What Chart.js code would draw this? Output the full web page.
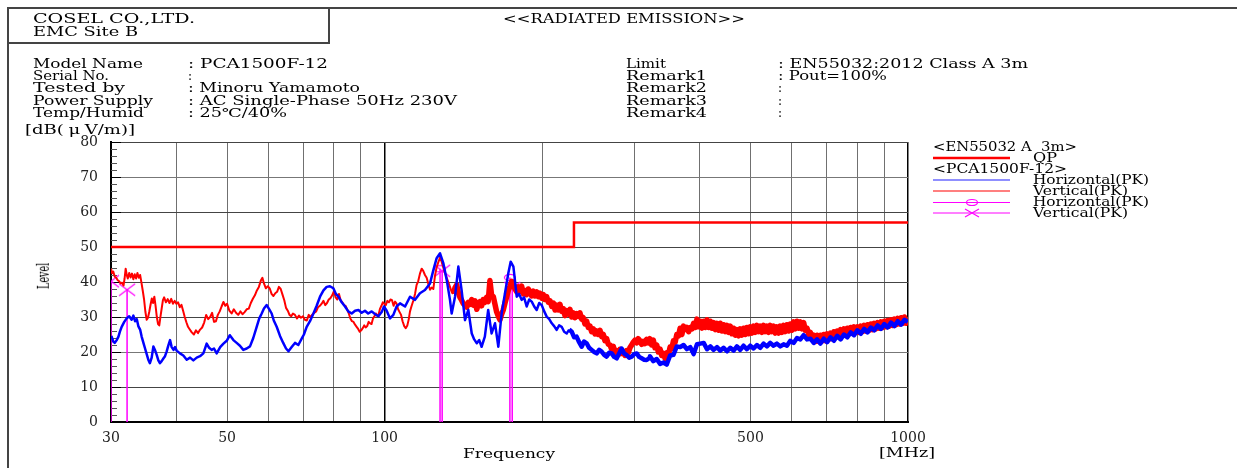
<!DOCTYPE html>
<html><head><meta charset="utf-8">
<script src="https://cdn.jsdelivr.net/npm/chart.js@4.4.1/dist/chart.umd.min.js"></script>
<style>
html,body{margin:0;padding:0;background:#fff;}
#wrap{position:relative;width:1237px;height:468px;overflow:hidden;background:#fff;}
#c{position:absolute;left:0;top:0;}
.t{position:absolute;font-family:'DejaVu Serif',serif;font-size:12px;line-height:12px;white-space:pre;color:#000;transform-origin:0 50%;}
.fr{position:absolute;background:#444;}
</style></head><body>
<div id="wrap">
<canvas id="c" width="1237" height="468"></canvas>
<div class="fr" style="left:7px;top:7px;width:2px;height:461px"></div>
<div class="fr" style="left:7px;top:7px;width:1230px;height:2px"></div>
<div class="fr" style="left:328px;top:7px;width:2px;height:37px"></div>
<div class="fr" style="left:7px;top:42px;width:323px;height:2px"></div>

<div class="t" data-w="162" style="left:33px;top:13px">COSEL CO.,LTD.</div>
<div class="t" data-w="105" style="left:33px;top:26px">EMC Site B</div>
<div class="t" data-w="242" style="left:503px;top:13px">&lt;&lt;RADIATED EMISSION&gt;&gt;</div>

<div class="t" data-w="110" style="left:33px;top:58px">Model Name</div>
<div class="t" data-w="76" style="left:33px;top:70px">Serial No.</div>
<div class="t" data-w="92" style="left:33px;top:82px">Tested by</div>
<div class="t" data-w="120" style="left:33px;top:95px">Power Supply</div>
<div class="t" data-w="111" style="left:33px;top:107px">Temp/Humid</div>

<div class="t" data-w="140" style="left:188px;top:58px">: PCA1500F-12</div>
<div class="t" style="left:188px;top:70px">:</div>
<div class="t" data-w="172" style="left:188px;top:82px">: Minoru Yamamoto</div>
<div class="t" data-w="269" style="left:188px;top:95px">: AC Single-Phase 50Hz 230V</div>
<div class="t" data-w="99" style="left:188px;top:107px">: 25℃/40%</div>

<div class="t" data-w="40" style="left:626px;top:58px">Limit</div>
<div class="t" data-w="81" style="left:626px;top:70px">Remark1</div>
<div class="t" data-w="81" style="left:626px;top:82px">Remark2</div>
<div class="t" data-w="81" style="left:626px;top:95px">Remark3</div>
<div class="t" data-w="81" style="left:626px;top:107px">Remark4</div>

<div class="t" data-w="250" style="left:778px;top:58px">: EN55032:2012 Class A 3m</div>
<div class="t" data-w="109" style="left:778px;top:70px">: Pout=100%</div>
<div class="t" style="left:778px;top:82px">:</div>
<div class="t" style="left:778px;top:95px">:</div>
<div class="t" style="left:778px;top:107px">:</div>

<div class="t" data-w="110" style="left:25px;top:124px">[dB(<span style="padding:0 3px">μ</span>V/m)]</div>
<div class="t" id="lvl" style="left:22px;top:268px;font-size:16px;line-height:16px;transform-origin:50% 50%;transform:rotate(-90deg) scaleX(0.6)">Level</div>

<div class="t" data-w="92" style="left:463px;top:448px">Frequency</div>
<div class="t" data-w="56" style="left:879px;top:447px">[MHz]</div>

<div class="t" data-w="144" style="left:933px;top:141px">&lt;EN55032 A  3m&gt;</div>
<div class="t" data-w="24" style="left:1033px;top:152px">QP</div>
<div class="t" data-w="134" style="left:933px;top:163px">&lt;PCA1500F-12&gt;</div>
<div class="t" data-w="116" style="left:1033px;top:174px">Horizontal(PK)</div>
<div class="t" data-w="95" style="left:1033px;top:185px">Vertical(PK)</div>
<div class="t" data-w="116" style="left:1033px;top:196px">Horizontal(PK)</div>
<div class="t" data-w="95" style="left:1033px;top:207px">Vertical(PK)</div>
<svg style="position:absolute;left:930px;top:150px" width="90" height="70">
 <line x1="3" y1="8" x2="80" y2="8" stroke="#ff0000" stroke-width="2.5"/>
 <line x1="3" y1="30" x2="80" y2="30" stroke="#2020ff" stroke-width="1.2"/>
 <line x1="3" y1="41" x2="80" y2="41" stroke="#ff0000" stroke-width="1.2"/>
 <line x1="3" y1="52.5" x2="80" y2="52.5" stroke="#ff00ff" stroke-width="1.2"/>
 <ellipse cx="42" cy="52.5" rx="5.5" ry="3" fill="none" stroke="#ff00ff" stroke-width="1.2"/>
 <line x1="3" y1="63" x2="80" y2="63" stroke="#ff00ff" stroke-width="1.2"/>
 <path d="M35,59 L49,67 M49,59 L35,67" stroke="#ff00ff" stroke-width="1.2" fill="none"/>
</svg>
</div>
<script>
// ---- data (frequency MHz, level dBuV/m) ----
const horizontalPK = [
[30.05,24.6],[30.3,23.0],[30.5,22.6],[30.76,23.4],[31.0,24.4],[31.2,25.8],[31.44,27.2],[31.8,28.6],[32.14,29.6],[32.5,30.2],[32.85,29.2],[33.1,30.4],[33.35,28.8],[33.6,29.4],[33.83,27.4],[34.1,26.4],[34.33,24.4],[34.6,22.6],[34.85,21.0],[35.1,19.4],[35.35,17.8],[35.6,16.8],[35.88,18.4],[36.15,21.6],[36.4,20.6],[36.68,19.2],[36.95,17.6],[37.2,16.8],[37.49,17.4],[37.8,18.2],[38.05,18.8],[38.33,20.2],[38.6,21.8],[38.9,23.4],[39.18,21.4],[39.5,20.6],[39.76,21.4],[40.05,20.4],[40.64,19.6],[41.24,19.0],[41.86,17.8],[42.48,18.4],[43.1,17.6],[43.74,18.4],[44.38,18.8],[45.04,19.6],[45.7,22.4],[46.2,21.2],[46.72,20.6],[47.2,21.0],[47.76,19.6],[48.5,21.4],[49.2,22.4],[49.91,23.2],[50.6,24.8],[51.4,23.4],[52.15,22.6],[52.9,21.8],[53.7,20.6],[54.5,21.0],[55.3,21.6],[56.1,24.0],[56.95,27.2],[57.6,29.6],[58.22,31.0],[58.8,32.4],[59.51,33.4],[60.2,32.2],[60.83,31.0],[61.4,29.0],[62.19,27.2],[63.1,24.6],[64.0,22.6],[64.8,21.0],[65.5,20.2],[66.43,21.4],[67.4,22.6],[68.4,22.0],[69.42,23.8],[70.1,25.0],[70.96,27.2],[72.0,28.8],[73.1,31.0],[74.15,33.2],[75.25,35.8],[76.4,37.6],[77.49,38.6],[78.6,38.8],[79.8,38.2],[80.7,36.6],[81.6,35.8],[82.78,34.2],[84.0,33.0],[85.2,31.6],[86.5,31.0],[87.8,31.8],[89.1,32.0],[90.39,31.2],[91.7,31.8],[93.0,31.0],[94.46,31.6],[95.9,30.8],[97.3,30.2],[98.71,31.4],[99.7,33.0],[100.9,31.8],[102.4,29.6],[103.9,30.6],[105.4,33.0],
[107.0,33.9],[109.4,33.0],[111.8,35.8],[114.3,34.9],[116.8,36.8],[119.4,37.7],[122.1,39.6],[123.9,43.4],[125.7,46.8],[127.6,48.2],[129.5,45.3],[131.4,40.6],[133.3,34.9],[134.3,31.0],[136.3,35.8],[138.3,44.4],[140.3,37.7],[142.4,29.1],[144.5,32.0],[146.7,25.3],[148.3,23.6],[150.0,22.5],[151.6,23.4],[153.2,21.5],[155.4,24.4],[157.7,32.0],[160.1,25.3],[162.5,28.2],[164.9,21.5],[167.3,31.0],[169.8,36.8],[172.3,42.5],[174.1,45.8],[176.2,44.4],[178.8,35.8],[180.7,36.6],[182.7,34.9],[184.7,35.6],[186.8,33.0],[188.9,35.0],[191.0,34.4],[193.1,33.0],[195.2,32.0],[197.4,34.0],[199.6,33.4],[201.8,31.6],[204.0,30.1],[206.3,29.4],[208.6,28.2],[210.8,27.4],[213.1,26.3],[215.5,27.6],[217.9,27.2],[220.3,25.8],[222.8,25.3],[225.2,26.4],[227.7,25.8],[230.2,24.2],[232.7,24.4],[235.3,22.8],[237.9,21.5],[240.5,23.0],[243.2,22.5],[245.9,21.2],[248.6,20.6],[251.4,20.0],[254.2,19.6],[257.0,20.6],[259.8,20.1],[262.7,19.2],[265.6,18.7],[268.5,19.8],[271.5,19.6],[274.5,18.6],[277.6,18.2],[280.6,19.6],[283.7,21.0],[286.8,19.6],[290.0,19.1],[293.2,18.4],[296.5,18.7],[299.8,19.4],[303.1,19.6],[306.4,18.6],[309.8,18.2],[313.2,17.8],[316.7,17.7],[320.0,18.2],
[321.3,18.8],[326.1,17.4],[331.0,18.0],[336.0,16.6],[341.0,17.0],[346.0,16.4],[351.1,19.0],[356.3,19.2],[361.6,21.6],[367.0,21.4],[372.5,22.0],[378.0,20.8],[383.7,21.4],[389.4,19.4],[395.2,22.2],[401.0,22.4],[407.0,22.6],[413.0,20.8],[419.1,21.6],[425.2,20.6],[431.5,21.4],[437.9,20.4],[444.3,21.2],[450.9,20.2],[457.5,21.2],[464.3,20.4],[471.1,21.6],[478.0,20.6],[485.1,21.8],[492.2,20.8],[499.5,21.8],[506.9,21.0],[514.4,22.0],[522.0,21.2],[529.7,22.4],[537.5,21.6],[545.5,22.6],[553.5,21.8],[561.7,22.4],[570.0,21.6],[578.5,22.2],[587.0,21.8],[595.8,23.2],[604.6,22.6],[613.6,24.0],[622.7,23.6],[631.9,24.8],[641.3,23.6],[650.8,23.8],[660.5,22.6],[670.3,23.6],[680.3,22.4],[690.4,23.8],[700.7,22.8],[711.1,24.2],[721.7,23.2],[732.5,24.6],[743.4,23.6],[754.5,25.0],[765.7,24.2],[777.1,25.6],[788.7,24.8],[800.5,26.2],[812.4,25.2],[824.5,26.6],[836.8,25.6],[849.3,27.0],[861.9,26.2],[874.7,27.6],[887.8,26.6],[901.0,28.0],[914.4,27.0],[928.1,28.4],[941.9,27.4],[955.9,28.8],[970.1,27.8],[984.6,29.2],[999.3,28.6]
];
const verticalPK = [
[30.0,43.8],[30.15,42.5],[30.3,43.0],[30.5,41.5],[30.7,41.2],[30.9,40.5],[31.1,40.2],[31.3,39.6],[31.5,39.8],[31.7,39.0],[31.85,41.0],[32.0,43.8],[32.15,42.0],[32.3,41.0],[32.5,42.6],[32.7,41.3],[32.9,42.4],[33.1,40.8],[33.3,42.2],[33.5,41.0],[33.7,42.6],[33.9,41.2],[34.1,42.0],[34.3,39.8],[34.5,37.5],[34.7,35.0],[34.9,31.5],[35.1,29.2],[35.3,29.8],[35.5,31.5],[35.7,33.5],[35.9,35.3],[36.1,34.0],[36.3,35.8],[36.5,33.2],[36.7,30.0],[36.9,28.0],[37.1,27.6],[37.3,30.2],[37.5,32.5],[37.7,34.8],[37.9,35.6],[38.2,34.2],[38.5,35.1],[38.8,34.0],[39.1,35.2],[39.4,33.8],[39.7,34.6],[40.0,33.8],[40.3,34.2],[40.6,32.8],[40.9,33.5],[41.2,31.8],[41.5,30.0],[41.8,28.5],[42.1,27.2],[42.4,26.5],[42.8,25.6],[43.2,25.0],[43.6,26.2],[44.0,25.4],[44.4,26.4],[44.8,27.0],[45.2,28.4],[45.6,30.6],[46.0,29.4],[46.4,30.0],[46.8,31.2],[47.2,28.6],[47.6,28.8],[48.0,30.6],[48.4,31.6],[48.8,33.0],[49.2,34.3],[49.6,33.2],[50.0,33.8],[50.5,31.8],[51.0,31.0],[51.5,32.2],[52.0,31.2],[52.5,30.6],[53.0,31.6],[53.5,30.8],[54.0,31.4],[54.5,32.2],[55.0,32.4],[55.5,34.0],[56.0,35.2],[56.5,36.2],[57.0,37.6],[57.5,38.6],[58.0,40.4],[58.4,41.2],[58.8,39.6],[59.3,38.2],[59.8,38.8],[60.3,38.2],[60.8,36.6],[61.3,36.0],[61.8,36.8],[62.3,37.2],[62.8,38.6],[63.3,38.0],[63.8,36.4],[64.3,34.8],[64.8,32.6],[65.3,31.8],[65.8,30.6],[66.3,30.2],[66.8,31.0],[67.4,30.6],[68.0,29.6],[68.6,30.4],[69.2,29.8],[69.8,30.2],[70.4,29.2],[71.0,29.0],[71.6,30.6],[72.2,30.0],[72.8,30.8],[73.4,31.2],[74.0,31.6],[74.6,32.8],[75.2,33.2],[75.8,33.8],[76.4,34.6],[77.0,33.4],[77.6,34.0],[78.2,35.0],[78.8,35.4],[79.4,36.2],[80.0,37.4],[80.6,35.6],[81.2,35.0],[81.8,36.6],[82.4,34.8],[83.0,34.2],[83.6,33.4],[84.2,33.2],[84.8,32.2],[85.4,31.0],[86.0,29.6],[86.6,28.8],[87.2,28.6],[87.8,27.8],[88.4,27.2],[89.0,26.6],[89.6,25.8],[90.2,26.2],[90.8,26.8],[91.4,27.6],[92.0,27.0],[92.6,27.4],[93.2,28.6],[93.8,28.2],[94.4,28.0],[95.0,29.6],[95.6,30.2],[96.2,31.0],[96.8,30.4],[97.4,30.8],[98.0,32.4],[98.6,33.2],[99.2,34.2],[99.8,33.8],[100.5,33.4],[101.2,34.6],[101.9,34.2],[102.6,35.0],[103.3,34.8],[104.0,33.2],[104.7,34.4],[105.4,33.8],[106.1,32.2],[106.8,31.4],[107.5,30.6],
[108.2,28.8],[109.0,27.4],[109.7,26.8],[110.5,27.6],[111.2,29.4],[111.8,31.6],[112.5,33.0],[113.5,34.8],[114.3,36.6],[115.1,39.2],[115.9,40.2],[116.8,42.4],[117.7,43.8],[118.5,43.2],[119.4,42.0],[120.3,41.2],[121.2,39.4],[122.1,37.8],[123.0,38.4],[123.9,38.0],[124.8,41.8],[125.7,44.2],[126.6,45.6],[127.6,47.0],[128.5,45.8],[129.5,44.0],[130.4,42.6],[131.4,41.2],[132.3,40.0],[133.3,38.6],[134.3,37.2],[135.3,36.6],[136.3,38.4],[137.3,39.2],[138.3,37.0],[139.3,35.6],[140.3,34.8],[141.4,33.8],[142.4,33.4],[143.5,32.8],[144.5,34.2],[145.6,33.6],[146.7,35.0],[147.7,33.4],[148.8,34.6],[150.0,32.2],[151.0,33.8],[152.1,34.4],[153.2,33.2],[154.3,35.0],[155.4,34.2],[156.6,35.6],[157.7,34.4],[158.9,40.4],[160.1,36.2],[161.3,35.8],[162.5,33.6],[163.7,31.4],[164.9,30.2],[166.1,29.2],[167.3,30.8],[168.5,32.0],[169.8,34.0],[171.1,35.8],[172.3,37.6],[173.6,38.8],[174.9,40.2],[176.2,39.4],[177.5,38.0],[178.8,37.2],[180.1,38.6],[181.4,37.4],[182.7,38.8],[184.1,36.6],[185.4,37.6],[186.8,36.4],[188.1,38.0],[189.5,37.2],[190.9,36.0],[192.3,37.4],[193.8,36.0],[195.2,37.2],[196.7,35.8],[198.1,36.8],[199.6,35.4],[201.0,36.4],[202.5,35.0],[204.0,35.8],[205.5,34.2],[207.0,34.6],[208.6,33.0],[210.1,34.0],[211.6,32.0],[213.2,33.4],[214.7,32.0],[216.3,33.6],[217.9,31.6],[219.5,32.4],[221.1,30.4],[222.8,31.8],[224.4,30.8],[226.0,32.2],[227.7,30.0],[229.3,31.2],[231.0,29.8],[232.7,31.0],[234.4,30.2],[236.1,31.2],[237.9,29.4],[239.6,29.8],[241.4,28.0],[243.2,28.8],[245.0,27.0],[246.8,27.4],[248.6,25.8],[250.5,26.6],[252.3,25.2],[254.2,26.0],[256.0,25.0],[257.9,26.2],[259.8,24.4],[261.7,25.0],[263.6,23.2],[265.6,23.8],[267.5,22.2],[269.5,22.0],[271.5,20.8],[273.5,21.6],[275.5,19.6],[277.6,20.4],[279.6,19.2],[281.6,20.8],[283.7,19.6],[285.8,20.2],[287.9,19.0],[290.0,20.4],[292.1,19.8],[294.2,21.2],[296.5,22.0],[298.6,22.8],[300.8,23.4],[303.0,22.6],[305.2,23.8],[307.5,23.2],[309.8,22.2],[312.0,23.0],[314.3,22.4],[316.7,23.6],[319.0,22.6],
[321.3,23.8],[323.7,22.0],[326.1,23.4],[328.5,21.2],[331.0,22.0],[333.4,20.0],[336.0,20.8],[338.4,19.0],[341.0,19.6],[343.4,18.2],[346.0,19.8],[348.5,19.2],[351.1,21.4],[353.7,21.0],[356.3,23.2],[359.0,22.8],[361.6,25.0],[364.3,24.6],[367.0,26.8],[369.8,25.0],[372.5,27.4],[375.3,26.4],[378.0,27.0],[380.9,25.8],[383.7,27.0],[386.5,26.6],[389.4,28.2],[392.3,27.0],[395.2,29.4],[398.1,27.2],[401.0,28.8],[404.0,26.8],[407.0,28.8],[410.0,27.0],[413.0,29.2],[416.0,27.0],[419.1,28.8],[422.1,26.8],[425.2,28.4],[428.4,26.4],[431.5,28.2],[434.7,26.2],[437.9,28.2],[441.1,26.0],[444.3,27.8],[447.6,25.8],[450.9,27.6],[454.2,25.6],[457.5,27.4],[460.9,25.2],[464.3,26.8],[467.7,24.8],[471.1,26.4],[474.6,24.6],[478.0,26.6],[481.5,24.8],[485.1,26.8],[488.6,25.0],[492.2,27.0],[495.8,25.2],[499.5,27.2],[503.2,25.4],[506.9,27.4],[510.6,25.6],[514.4,27.6],[518.1,25.8],[522.0,27.4],[525.8,25.6],[529.7,27.6],[533.6,25.8],[537.5,27.4],[541.5,25.6],[545.5,27.6],[549.5,25.8],[553.5,27.4],[557.6,25.4],[561.7,27.2],[565.9,25.4],[570.0,27.4],[574.2,25.6],[578.5,27.6],[582.7,25.8],[587.0,27.8],[591.4,26.0],[595.8,28.0],[600.2,26.2],[604.6,28.6],[609.1,26.6],[613.6,28.8],[618.1,26.8],[622.7,28.6],[627.3,26.6],[631.9,28.4],[636.6,26.2],[641.3,26.8],[646.1,25.0],[650.8,25.6],[655.6,23.8],[660.5,24.8],[665.4,23.0],[670.3,24.8],[675.3,23.0],[680.3,24.8],[685.3,23.2],[690.4,25.0],[695.5,23.2],[700.7,25.2],[705.9,23.6],[711.1,25.4],[716.4,23.8],[721.7,25.8],[727.1,24.2],[732.5,26.0],[737.9,24.4],[743.4,26.4],[748.9,24.8],[754.5,26.6],[760.1,25.0],[765.7,26.8],[771.4,25.2],[777.1,27.0],[782.9,25.4],[788.7,27.2],[794.6,25.6],[800.5,27.2],[806.4,25.6],[812.4,27.4],[818.4,25.8],[824.5,27.6],[830.6,26.0],[836.8,27.8],[843.0,26.2],[849.3,28.0],[855.6,26.4],[861.9,28.2],[868.3,26.6],[874.7,28.4],[881.2,26.8],[887.8,28.6],[894.4,27.0],[901.0,28.8],[907.7,27.2],[914.4,29.0],[921.2,27.4],[928.1,29.2],[934.9,27.6],[941.9,29.4],[948.9,27.8],[955.9,29.6],[963.0,28.0],[970.1,29.8],[977.3,28.2],[984.6,30.0],[991.9,28.2],[999.3,29.6]
];
const limitQP = [[30,50],[230,50],[230,57],[1000,57]];
const markersH = [[127.6,43.8],[173.5,41.3]];
const markersV = [[30.0,40.2],[32.2,37.8],[128.8,43.2],[175.3,38.3]];
const xTicks = [30,40,50,60,70,80,90,100,200,300,400,500,600,700,800,900,1000];
const xTickLabels = [30,50,100,500,1000];
const yTicks = [0,10,20,30,40,50,60,70,80];

// ---- text fitting (layout only) ----
document.querySelectorAll('[data-w]').forEach(el=>{
  const w = el.getBoundingClientRect().width;
  el.style.transform = 'scaleX(' + (parseFloat(el.dataset.w)/w) + ')';
});

const toXY = a => a.map(p => ({x:p[0], y:p[1]}));
const stems = m => m.flatMap(p => [{x:p[0],y:0},{x:p[0],y:p[1]},{x:p[0],y:null}]);
function mk(w,h,draw){const c=document.createElement('canvas');c.width=w;c.height=h;const g=c.getContext('2d');g.strokeStyle='#ff00ff';g.lineWidth=1.2;draw(g,w,h);return c;}
const ellipseImg = mk(14,9,(g,w,h)=>{g.beginPath();g.ellipse(w/2,h/2,5.5,3.2,0,0,Math.PI*2);g.stroke();});
const crossImg = mk(18,14,(g,w,h)=>{g.beginPath();g.moveTo(1,1);g.lineTo(w-1,h-1);g.moveTo(w-1,1);g.lineTo(1,h-1);g.stroke();});

const minorTicks = {
  id:'minorTicks',
  beforeDatasetsDraw(chart){
    const y = chart.scales.y, a = chart.chartArea, g = chart.ctx;
    g.save();
    for (let v = y.min; v <= y.max; v += 2){
      const py = Math.round(y.getPixelForValue(v)) + 0.5;
      const major = v % 10 === 0;
      g.strokeStyle = major ? '#000' : '#555';
      g.lineWidth = 1;
      g.beginPath(); g.moveTo(a.left, py); g.lineTo(a.left + (major ? 10 : 6), py); g.stroke();
    }
    g.restore();
  }
};

new Chart(document.getElementById('c'), {
  type:'scatter',
  data:{ datasets:[
    {label:'Horizontal(PK)', data:toXY(horizontalPK), showLine:true, borderColor:'#0000ff', pointRadius:0, borderWidth:2.5, borderJoinStyle:'round',
      segment:{borderWidth: c => c.p0.parsed.x >= 225 ? 4.5 : 2.5}},
    {label:'Vertical(PK)', data:toXY(verticalPK), showLine:true, borderColor:'#ff0000', pointRadius:0, borderWidth:2, borderJoinStyle:'round',
      segment:{borderWidth: c => c.p0.parsed.x >= 135 ? 5.5 : 2}},
    {label:'QP', data:toXY(limitQP), showLine:true, borderColor:'#ff0000', pointRadius:0, borderWidth:2.5},
    {label:'stemH', data:stems(markersH), showLine:true, spanGaps:false, borderColor:'#ff00ff', pointRadius:0, borderWidth:1.5},
    {label:'stemV', data:stems(markersV), showLine:true, spanGaps:false, borderColor:'#ff00ff', pointRadius:0, borderWidth:1.5},
    {label:'markH', data:toXY(markersH), showLine:false, pointStyle:ellipseImg, pointRadius:6, clip:{left:0,top:10,right:10,bottom:0}},
    {label:'markV', data:toXY(markersV), showLine:false, pointStyle:crossImg, pointRadius:6, clip:{left:0,top:10,right:10,bottom:0}}
  ]},
  options:{
    responsive:false, animation:false, devicePixelRatio:1,
    layout:{padding:{left:51, top:142, right:329, bottom:16}},
    plugins:{legend:{display:false}, tooltip:{enabled:false}},
    scales:{
      x:{type:'logarithmic', min:30, max:1000, position:'bottom',
        afterBuildTicks: s => { s.ticks = xTicks.map(v => ({value:v})); },
        afterFit: s => { s.height = 30; },
        ticks:{autoSkip:false, maxRotation:0, minRotation:0, padding:8, color:'#222',
          font:{family:'DejaVu Serif', size:14},
          callback: v => xTickLabels.includes(v) ? String(v) : ''},
        grid:{drawTicks:false,
          color: c => (c.tick && (c.tick.value === 100 || c.tick.value === 1000)) ? '#000' : '#707070',
          lineWidth: c => (c.tick && (c.tick.value === 100 || c.tick.value === 1000)) ? 1.5 : 1},
        border:{display:true, color:'#000', width:2}},
      y:{type:'linear', min:0, max:80,
        afterBuildTicks: s => { s.ticks = yTicks.map(v => ({value:v})); },
        afterFit: s => { s.width = 60; },
        ticks:{padding:13, color:'#222', font:{family:'DejaVu Serif', size:14}},
        grid:{drawTicks:false,
          color: c => (c.tick && (c.tick.value === 20 || c.tick.value === 70)) ? '#777' : '#444',
          lineWidth: 1},
        border:{display:true, color:'#000', width:2}}
    }
  },
  plugins:[minorTicks]
});
</script>
</body></html>
